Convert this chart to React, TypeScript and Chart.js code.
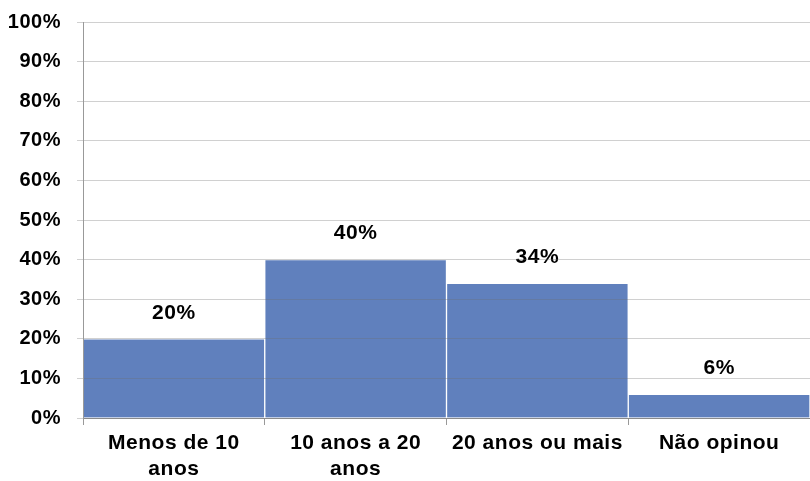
import React, { useEffect, useRef } from "react";
import { Chart, registerables } from "chart.js";

Chart.register(...registerables);

const categories: (string | string[])[] = [
  ["Menos de 10", "anos"],
  ["10 anos a 20", "anos"],
  "20 anos ou mais",
  "Não opinou",
];
const values: number[] = [20, 40, 34, 6];
const yTicks: number[] = [0, 10, 20, 30, 40, 50, 60, 70, 80, 90, 100];

const FONT = "'Liberation Sans', Arial, sans-serif";

const spacing = {
  id: "spacing",
  beforeUpdate(chart: any) {
    chart.ctx.letterSpacing = "0.5px";
  },
  beforeDraw(chart: any) {
    chart.ctx.letterSpacing = "0.5px";
  },
};

const valueLabels = {
  id: "valueLabels",
  afterDatasetsDraw(chart: any) {
    const ctx = chart.ctx;
    const meta = chart.getDatasetMeta(0);
    ctx.save();
    ctx.font = `bold 21px ${FONT}`;
    ctx.fillStyle = "#000";
    ctx.textAlign = "center";
    ctx.textBaseline = "middle";
    meta.data.forEach((bar: any, i: number) => {
      ctx.fillText(`${values[i]}%`, bar.x, bar.y - 26);
    });
    ctx.restore();
  },
};

export default function App() {
  const ref = useRef<HTMLCanvasElement>(null);
  useEffect(() => {
    document.body.style.margin = "0";
    if (!ref.current) return;
    const chart = new Chart(ref.current, {
      type: "bar",
      data: {
        labels: categories,
        datasets: [
          {
            data: values,
            backgroundColor: "#6080BD",
            borderColor: "rgba(255,255,255,0.85)",
            borderWidth: 1,
            barPercentage: 1,
            categoryPercentage: 1,
          },
        ],
      },
      options: {
        animation: false,
        responsive: false,
        maintainAspectRatio: false,
        layout: { padding: { top: 22, right: 0, left: 0, bottom: 0 } },
        plugins: {
          legend: { display: false },
          tooltip: { enabled: false },
        },
        scales: {
          x: {
            offset: true,
            grid: {
              offset: true,
              drawOnChartArea: false,
              drawTicks: true,
              tickLength: 7,
              color: "#999",
            },
            border: { display: true, color: "#999" },
            ticks: {
              color: "#000",
              font: { family: FONT, size: 21, weight: "bold", lineHeight: 1.2 },
              padding: 6,
              maxRotation: 0,
              autoSkip: false,
            },
            afterFit: (s: any) => {
              s.height = 63;
              s.paddingLeft = 0;
              s.paddingRight = 0;
            },
          },
          y: {
            min: 0,
            max: 100,
            afterBuildTicks: (s: any) => {
              s.ticks = yTicks.map((v) => ({ value: v }));
            },
            grid: {
              color: "rgba(110,110,110,0.32)",
              tickLength: 6,
              z: 1,
            },
            border: { display: true, color: "#999", z: 1 },
            ticks: {
              color: "#000",
              font: { family: FONT, size: 20, weight: "bold" },
              padding: 16,
              callback: (v: any) => `${v}%`,
            },
            afterFit: (s: any) => {
              s.width = 83;
              s.paddingTop = 0;
              s.paddingBottom = 0;
            },
          },
        },
      },
      plugins: [spacing, valueLabels],
    });
    return () => chart.destroy();
  }, []);
  return (
    <div style={{ width: 810, height: 481 }}>
      <canvas ref={ref} width={810} height={481} style={{ display: "block" }} />
    </div>
  );
}
